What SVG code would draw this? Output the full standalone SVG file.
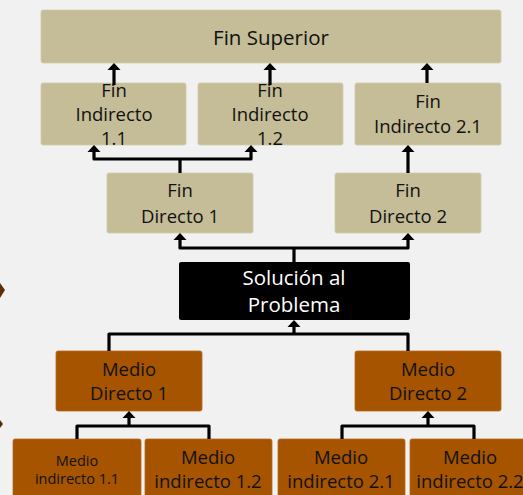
<svg xmlns="http://www.w3.org/2000/svg" width="523" height="495" viewBox="0 0 523 495">
<style>
.tan{fill:#c4bd97;stroke:#d2ccac;stroke-width:0.8}
.brn{fill:#a65400;stroke:#b86a20;stroke-width:0.8}
.blk{fill:#000}
text{font-family:"Open Sans","Liberation Sans",sans-serif;text-anchor:middle;fill:#111}
.w{fill:#fff}
.f20{font-size:20.5px}
.f18{font-size:18.5px}
.f14{font-size:14.5px}
.c path{fill:none;stroke:#000;stroke-width:3.2;stroke-linejoin:round}
</style>
<defs>
<marker id="ah" viewBox="0 -7 7 14" markerWidth="7" markerHeight="14" refX="0" refY="0" orient="auto" markerUnits="userSpaceOnUse">
<path d="M0,-6.5 L7,0 L0,6.5 z" fill="#000"/>
</marker>
</defs>
<rect width="523" height="495" fill="#f1f1f1"/>
<path d="M0,283 L5,290 L0,298 z" fill="#5a2e08"/>
<path d="M0,420 L3,424 L0,428 z" fill="#5a2e08"/>

<g id="fin-superior"><rect class="tan" x="41" y="10" width="460" height="53" rx="2"/><text class="f20" x="271" y="45">Fin Superior</text></g>
<g id="fin-indirecto-1-1"><rect class="tan" x="41" y="83" width="145" height="62" rx="2"/><text class="f18" x="114" y="97">Fin</text><text class="f18" x="114" y="121">Indirecto</text><text class="f18" x="114" y="145">1.1</text></g>
<g id="fin-indirecto-1-2"><rect class="tan" x="198" y="83" width="145" height="62" rx="2"/><text class="f18" x="270" y="97">Fin</text><text class="f18" x="270" y="121">Indirecto</text><text class="f18" x="270" y="145">1.2</text></g>
<g id="fin-indirecto-2-1"><rect class="tan" x="355" y="83" width="146" height="62" rx="2"/><text class="f18" x="428" y="108">Fin</text><text class="f18" x="428" y="133">Indirecto 2.1</text></g>
<g id="fin-directo-1"><rect class="tan" x="107" y="173" width="146" height="60" rx="2"/><text class="f18" x="180" y="197">Fin</text><text class="f18" x="180" y="223">Directo 1</text></g>
<g id="fin-directo-2"><rect class="tan" x="335" y="173" width="146" height="60" rx="2"/><text class="f18" x="408" y="197">Fin</text><text class="f18" x="408" y="223">Directo 2</text></g>
<g id="solucion"><rect class="blk" x="179" y="262" width="231" height="58" rx="2"/><text class="f20 w" x="294" y="285">Solución al</text><text class="f20 w" x="294" y="312">Problema</text></g>
<g id="medio-directo-1"><rect class="brn" x="56" y="351" width="146" height="60" rx="2"/><text class="f18" x="129" y="376">Medio</text><text class="f18" x="129" y="400">Directo 1</text></g>
<g id="medio-directo-2"><rect class="brn" x="355" y="351" width="146" height="60" rx="2"/><text class="f18" x="428" y="376">Medio</text><text class="f18" x="428" y="400">Directo 2</text></g>
<g id="medio-indirecto-1-1"><rect class="brn" x="13" y="439" width="128" height="62" rx="2"/><text class="f14" x="77" y="466">Medio</text><text class="f14" x="77" y="484">indirecto 1.1</text></g>
<g id="medio-indirecto-1-2"><rect class="brn" x="145" y="439" width="127" height="62" rx="2"/><text class="f18" x="208" y="464">Medio</text><text class="f18" x="208" y="488">indirecto 1.2</text></g>
<g id="medio-indirecto-2-1"><rect class="brn" x="278" y="439" width="127" height="62" rx="2"/><text class="f18" x="341" y="464">Medio</text><text class="f18" x="341" y="488">indirecto 2.1</text></g>
<g id="medio-indirecto-2-2"><rect class="brn" x="410" y="439" width="127" height="62" rx="2"/><text class="f18" x="470" y="464">Medio</text><text class="f18" x="470" y="488">indirecto 2.2</text></g>

<g id="connectors" class="c">
<path d="M114,85 V70" marker-end="url(#ah)"/>
<path d="M270,85 V70" marker-end="url(#ah)"/>
<path d="M427,83 V70" marker-end="url(#ah)"/>
<path d="M180,173 V159"/>
<path d="M180,159 H94 V152" marker-end="url(#ah)"/>
<path d="M180,159 H251 V152" marker-end="url(#ah)"/>
<path d="M408,173 V152" marker-end="url(#ah)"/>
<path d="M294,262 V248"/>
<path d="M294,248 H180 V240" marker-end="url(#ah)"/>
<path d="M294,248 H408 V240" marker-end="url(#ah)"/>
<path d="M109,351 V334 H408 V351"/>
<path d="M294,334 V327" marker-end="url(#ah)"/>
<path d="M77,439 V426 H209 V439"/>
<path d="M129,426 V418" marker-end="url(#ah)"/>
<path d="M342,439 V426 H474 V439"/>
<path d="M428,426 V418" marker-end="url(#ah)"/>
</g>
</svg>
